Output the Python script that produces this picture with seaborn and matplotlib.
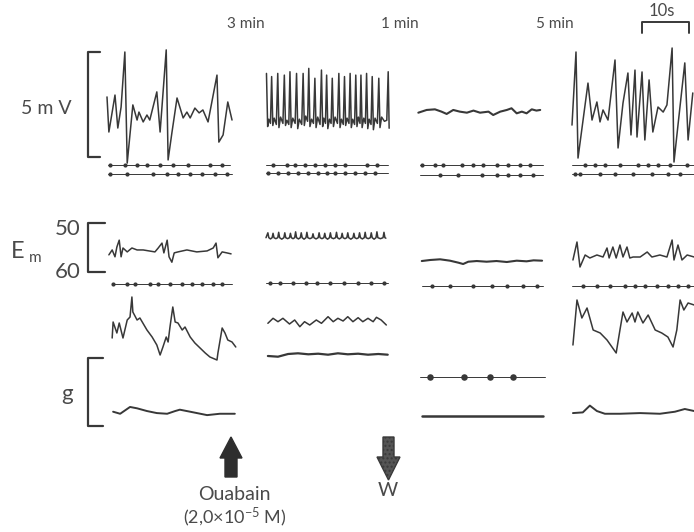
import matplotlib
matplotlib.use("Agg")
import matplotlib.pyplot as plt
import seaborn as sns
from matplotlib.patches import Polygon

# ---------------- data ----------------
# time in s from the start of each panel; top traces in mV, Em in -mV, 3rd row a.u., g row a.u.
TOP1_T = [0.0, 0.4, 1.7, 2.3, 3.0, 3.8, 4.3, 5.5, 6.4, 6.8, 7.7, 8.5, 9.1, 10.6, 11.3, 12.6, 13.0,
          13.8, 14.9, 16.2, 17.0, 17.7, 18.7, 19.6, 20.4, 21.5, 23.4, 23.8, 24.7, 25.7, 26.6]
TOP1_MV = [2.86, 1.19, 2.95, 1.38, 2.38, 5.0, -0.29, 2.48, 1.76, 2.14, 1.67, 2.0, 1.76, 3.1, 1.19, 5.1,
           -0.14, 1.14, 2.81, 1.86, 2.14, 1.86, 2.33, 2.1, 2.24, 1.67, 3.9, 0.71, 1.05, 2.62, 1.76]

TOP2_T = [0.1, 0.35, 0.6, 0.95, 1.2, 1.45, 1.75, 2.2, 2.5, 2.75, 3.1, 3.6, 3.9, 4.15, 4.45, 4.85,
          5.1, 5.35, 5.7, 6.2, 6.5, 6.75, 7.1, 7.6, 7.9, 8.15, 8.45, 8.85, 9.1, 9.35, 9.7, 10.1,
          10.4, 10.65, 11.0, 11.5, 11.8, 12.05, 12.3, 12.65, 12.9, 13.15, 13.5, 13.85, 14.1, 14.35,
          14.7, 15.2, 15.5, 15.75, 16.05, 16.45, 16.7, 16.95, 17.25, 17.65, 17.9, 18.15, 18.45, 18.85,
          19.1, 19.35, 19.65, 20.0, 20.2, 20.45, 20.8, 21.15, 21.4, 21.65, 21.95, 22.35, 22.6, 22.85,
          23.2, 23.7, 24.0, 24.25, 24.6, 25.2, 25.7, 26.0, 26.2]
TOP2_MV = [3.98, 1.45, 1.8, 1.6, 3.83, 1.5, 1.85, 1.55, 3.98, 1.4, 1.9, 1.6, 3.9, 1.5, 1.75, 1.55,
           4.06, 1.4, 1.85, 1.6, 3.98, 1.35, 1.8, 1.55, 3.98, 1.5, 1.95, 1.7, 4.22, 1.45, 1.8, 1.6,
           3.75, 1.4, 1.9, 1.55, 4.14, 1.45, 1.85, 1.6, 3.9, 1.35, 1.8, 1.6, 3.75, 1.45,
           1.9, 1.6, 3.98, 1.4, 1.8, 1.55, 3.83, 1.5, 1.85, 1.6, 3.98, 1.4, 1.8, 1.55,
           3.9, 1.45, 1.9, 1.6, 3.9, 1.4, 1.85, 1.6, 3.98, 1.35, 1.8, 1.55, 3.83, 1.3,
           1.85, 1.6, 3.75, 1.4, 1.9, 1.7, 1.75, 4.06, 1.37]

TOP3_T = [0.07, 1.84, 3.6, 5.0, 6.1, 7.5, 8.9, 10.4, 11.8, 13.2, 15.0, 16.0, 17.5, 18.9, 19.9,
          21.0, 22.1, 23.1, 24.2, 25.2, 26.0]
TOP3_MV = [2.11, 2.24, 2.27, 2.16, 2.05, 2.24, 2.16, 2.11, 2.21, 2.11, 2.16, 2.0, 2.16, 2.24, 2.32,
           2.08, 2.16, 2.08, 2.27, 2.21, 2.24]

TOP4_T = [0.0, 0.85, 1.28, 3.4, 4.26, 5.3, 5.96, 6.6, 7.66, 9.15, 9.8, 10.85, 11.9, 12.55, 13.4,
          13.83, 14.9, 15.5, 16.4, 17.2, 18.3, 19.4, 20.2, 21.3, 21.7, 22.55, 24.0, 24.7, 25.7]
TOP4_MV = [1.52, 5.0, -0.05, 3.52, 1.76, 2.62, 1.67, 2.24, 1.76, 4.62, 0.43, 2.57, 4.0, 1.05, 4.14,
           0.95, 4.05, 0.81, 3.67, 1.19, 2.38, 2.14, 2.48, 5.19, -0.24, 1.52, 4.48, 0.81, 3.05]

EM1_T = [0.4, 1.1, 1.7, 2.1, 2.6, 3.0, 3.4, 4.3, 5.3, 6.4, 7.7, 10.2, 10.9, 11.7, 12.1, 12.8, 13.2,
         13.8, 14.3, 15.1, 17.0, 19.1, 21.3, 22.6, 23.2, 23.6, 24.5, 25.5, 26.4]
EM1_V = [56.5, 55.5, 56.9, 54.9, 53.5, 56.9, 55.1, 55.9, 55.1, 55.5, 55.5, 55.9, 55.1, 54.1, 56.1,
         53.5, 56.9, 58.0, 56.1, 55.9, 55.5, 55.9, 55.7, 55.1, 54.1, 57.1, 55.9, 56.1, 56.3]

EM2_T = [0.0,
         0.4, 0.6, 0.95, 1.3, 1.5, 1.7, 2.1, 2.5, 2.7, 2.9, 3.35, 3.8, 4.0, 4.2, 4.6, 5.0,
         5.2, 5.4, 5.75, 6.1, 6.3, 6.5, 6.9, 7.3, 7.5, 7.7, 8.1, 8.5, 8.7, 8.9, 9.35, 9.8,
         10.0, 10.2, 10.65, 11.1, 11.3, 11.5, 11.9, 12.3, 12.5, 12.7, 13.1, 13.5, 13.7, 13.9, 14.35, 14.8,
         15.0, 15.2, 15.6, 16.0, 16.2, 16.4, 16.8, 17.2, 17.4, 17.6, 18.05, 18.5, 18.7, 18.9, 19.3, 19.7,
         19.9, 20.1, 20.5, 20.9, 21.1, 21.3, 21.75, 22.2, 22.4, 22.6, 23.0, 23.4, 23.6, 23.8, 24.35, 24.9,
         25.1, 25.3, 25.5]
EM2_V = [53.0,
         52.0, 53.0, 53.25, 53.0, 52.1, 53.0, 53.2, 53.0, 51.9, 53.0, 53.3, 53.0, 52.0, 53.0, 53.2, 53.0,
         52.1, 53.0, 53.2, 53.0, 51.8, 53.0, 53.25, 53.0, 52.0, 53.0, 53.3, 53.0, 51.9, 53.0, 53.2, 53.0,
         52.2, 53.0, 53.25, 53.0, 52.0, 53.0, 53.2, 53.0, 52.1, 53.0, 53.3, 53.0, 52.0, 53.0, 53.2, 53.0,
         51.9, 53.0, 53.25, 53.0, 52.1, 53.0, 53.2, 53.0, 52.0, 53.0, 53.3, 53.0, 52.1, 53.0, 53.2, 53.0,
         52.0, 53.0, 53.25, 53.0, 51.9, 53.0, 53.2, 53.0, 52.0, 53.0, 53.3, 53.0, 51.8, 53.0, 53.2, 53.0,
         51.9, 53.0, 53.1]

EM3_T = [0.8, 2.6, 4.7, 6.8, 8.6, 9.6, 10.7, 12.5, 14.6, 16.7, 18.9, 21.0, 23.1, 24.6, 26.4]
EM3_V = [57.76, 57.55, 57.41, 57.69, 58.1, 58.37, 57.9, 57.76, 57.9, 57.76, 57.96, 57.69, 57.82,
         57.62, 57.69]

EM4_T = [0.2, 1.06, 1.7, 2.8, 3.8, 5.3, 6.6, 7.45, 7.9, 8.7, 9.4, 10.2, 10.85, 11.7, 12.3, 13.0,
         14.5, 16.0, 17.0, 18.7, 20.2, 21.3, 21.7, 22.55, 23.4, 24.5, 26.0]
EM4_V = [57.55, 53.88, 58.98, 56.53, 57.14, 56.53, 56.94, 55.1, 57.14, 54.9, 57.14, 54.49, 56.94,
         54.9, 57.14, 56.94, 56.94, 55.92, 56.94, 56.53, 56.94, 53.47, 57.55, 54.49, 57.55, 56.53, 56.94]

MEC1_T = [1.1, 1.3, 2.1, 2.6, 3.4, 4.3, 4.9, 5.3, 5.5, 6.4, 7.0, 8.5, 9.6, 10.6, 11.3, 11.9, 12.6,
          13.0, 13.4, 14.0, 14.5, 15.1, 16.0, 16.6, 17.7, 18.7, 19.8, 20.9, 21.9, 23.4, 23.6, 24.5,
          25.1, 25.7, 26.6, 27.4]
MEC1_V = [3.2, 4.8, 3.7, 4.7, 3.2, 5.0, 5.3, 7.3, 5.8, 5.0, 5.2, 4.0, 3.3, 2.5, 1.5, 2.3, 3.3,
          2.8, 4.3, 6.3, 4.8, 4.7, 4.0, 4.3, 3.3, 2.7, 2.2, 1.7, 1.3, 1.0, 1.7, 4.2,
          3.7, 3.0, 2.8, 2.3]

MEC2_T = [0.4, 1.5, 2.55, 3.6, 5.0, 6.1, 7.2, 8.2, 9.3, 10.7, 11.8, 13.2, 14.3, 15.3, 16.4, 17.4,
          18.5, 19.6, 20.6, 21.7, 22.8, 23.5, 24.5, 25.6]
MEC2_V = [4.67, 5.17, 4.83, 5.17, 4.6, 5.0, 4.33, 4.83, 4.5, 5.0, 4.67, 5.33, 4.83, 5.17, 4.9, 5.33,
          4.83, 5.23, 4.83, 5.17, 4.83, 5.27, 5.0, 4.5]
BASE2_T = [0.4, 2.55, 4.7, 6.8, 9.0, 11.1, 13.2, 15.3, 17.4, 19.6, 21.7, 23.9, 25.9]
BASE2_V = [1.4, 1.33, 1.6, 1.67, 1.57, 1.63, 1.53, 1.67, 1.57, 1.63, 1.53, 1.6, 1.53]

MEC4_T = [0.2, 1.06, 2.1, 3.2, 4.5, 6.0, 7.45, 8.5, 9.4, 10.2, 10.85, 11.7, 12.8, 13.4, 14.0, 15.1,
          16.2, 17.7, 19.1, 20.4, 21.5, 22.3, 23.0, 23.8, 24.7, 26.0]
MEC4_V = [2.5, 7.0, 5.2, 6.2, 4.0, 3.7, 3.0, 2.3, 1.7, 4.0, 5.8, 4.8, 5.7, 4.8, 5.8, 4.7,
          5.5, 4.0, 3.7, 3.3, 2.3, 4.0, 7.0, 6.0, 6.7, 6.5]

G1_T = [1.3, 2.8, 4.9, 6.4, 8.5, 10.6, 12.8, 14.5, 15.5, 17.7, 21.3, 24.0, 27.2]
G1_V = [0.21, 0.18, 0.28, 0.26, 0.22, 0.19, 0.18, 0.22, 0.24, 0.21, 0.16, 0.18, 0.18]
G3_T = [0.85, 13.0, 26.6]
G3_V = [0.14, 0.14, 0.14]
G4_T = [0.2, 2.3, 3.8, 5.3, 7.0, 10.2, 14.5, 18.7, 21.9, 24.0, 26.0]
G4_V = [0.19, 0.2, 0.3, 0.22, 0.18, 0.18, 0.19, 0.18, 0.21, 0.25, 0.22]

# time-marker rows: dot times (s)
MARK_TOP_A = [[0.6, 3.8, 6.4, 8.5, 11.3, 14.0, 17.2, 21.9, 24.5],
              [1.5, 4.5, 6.2, 8.3, 10.4, 12.6, 14.7, 16.8, 21.5, 23.6],
              [0.85, 3.6, 5.3, 9.4, 11.7, 13.8, 16.8, 19.1, 21.7, 23.8],
              [2.8, 4.9, 7.0, 10.2, 14.0, 16.2, 18.3, 20.9, 24.5]]
MARK_TOP_B = [[0.6, 4.3, 9.8, 12.8, 15.1, 17.7, 20.2, 23.0, 25.5],
              [0.4, 2.6, 4.7, 6.8, 8.9, 11.1, 13.0, 14.7, 16.8, 18.9, 21.1, 23.2],
              [4.7, 8.5, 13.6, 16.8, 19.1, 21.7, 24.5],
              [0.6, 1.7, 6.0, 9.1, 13.0, 17.0, 20.4, 23.0]]
MARK_EM = [[1.3, 4.3, 6.0, 9.1, 10.9, 13.4, 16.0, 18.1, 20.2, 22.6, 24.5],
           [0.85, 3.0, 5.7, 8.5, 10.9, 13.6, 16.6, 19.6, 22.3, 25.1],
           [3.0, 6.8, 11.7, 15.7, 18.9, 22.3, 25.3],
           [2.3, 5.3, 8.1, 11.3, 13.4, 15.5, 18.1, 20.4, 22.55, 24.7]]
MARK_G3 = [2.55, 9.8, 15.3, 20.2]

SCALE_MV = 5
SCALE_EM = (50, 60)
SCALE_S = 10
TIME_LABELS = ["3 min", "1 min", "5 min"]

# ---------------- layout / style ----------------
sns.set_theme(style="white")
plt.rcParams["font.family"] = ["Lato", "DejaVu Sans"]
plt.rcParams["mathtext.default"] = "regular"

W, H = 694, 532
INK = "#383838"
fig = plt.figure(figsize=(W / 100, H / 100), dpi=100, facecolor="white")

PX_PER_S = 4.7
SPAN_S = 26.6
COL_X0 = [107, 266, 418, 572]


def add_ax(x0, y_top, y_bot, ylim):
    ax = fig.add_axes([x0 / W, 1 - y_bot / H, SPAN_S * PX_PER_S / W, (y_bot - y_top) / H])
    ax.set_xlim(0, SPAN_S)
    ax.set_ylim(*ylim)
    ax.axis("off")
    ax.patch.set_alpha(0)
    return ax


def trace(ax, t, v, lw=1.1):
    sns.lineplot(x=t, y=v, ax=ax, color=INK, linewidth=lw, sort=False, estimator=None, legend=False)
    for ln in ax.lines:
        ln.set_clip_on(False)


def marker_row(x0, y, times, extent, s=9):
    ax = add_ax(x0, y - 5, y + 5, (-1, 1))
    sns.lineplot(x=list(extent), y=[0, 0], ax=ax, color=INK, linewidth=0.7, estimator=None, legend=False)
    sns.scatterplot(x=times, y=[0] * len(times), ax=ax, s=s, color=INK, linewidth=0, legend=False)
    for ln in ax.lines:
        ln.set_clip_on(False)
    for c in ax.collections:
        c.set_clip_on(False)
    return ax


# top traces (5 mV row)
TOPS = [(TOP1_T, TOP1_MV), (TOP2_T, TOP2_MV), (TOP3_T, TOP3_MV), (TOP4_T, TOP4_MV)]
top_axes = []
for x0, (t, v) in zip(COL_X0, TOPS):
    ax = add_ax(x0, 52, 157, (0, SCALE_MV))
    trace(ax, t, v, lw=1.1 if v is not TOP3_MV else 1.5)
    top_axes.append(ax)

TOP_EXT_A = [(0.2, 26.2), (0.0, 26.0), (0.4, 26.6), (0.0, 26.6)]
TOP_EXT_B = [(0.2, 26.6), (0.0, 26.0), (0.4, 26.6), (0.0, 26.6)]
TOP_Y_B = [174, 173, 175, 174]
for i, x0 in enumerate(COL_X0):
    marker_row(x0, 165, MARK_TOP_A[i], TOP_EXT_A[i])
    marker_row(x0, TOP_Y_B[i], MARK_TOP_B[i], TOP_EXT_B[i])

# Em row
EMS = [(EM1_T, EM1_V), (EM2_T, EM2_V), (EM3_T, EM3_V), (EM4_T, EM4_V)]
em_axes = []
for x0, (t, v) in zip(COL_X0, EMS):
    ax = add_ax(x0, 223, 272, (SCALE_EM[1], SCALE_EM[0]))
    trace(ax, t, v, lw=1.1 if v is not EM3_V else 1.5)
    em_axes.append(ax)

EM_EXT = [(1.1, 26.6), (0.0, 26.0), (0.8, 26.6), (0.0, 26.6)]
EM_MARK_Y = [284, 283, 286, 286]
for i, x0 in enumerate(COL_X0):
    marker_row(x0, EM_MARK_Y[i], MARK_EM[i], EM_EXT[i])

# third row
mec_axes = []
for x0, tv in zip(COL_X0, [(MEC1_T, MEC1_V), (MEC2_T, MEC2_V), None, (MEC4_T, MEC4_V)]):
    ax = add_ax(x0, 290, 370, (0, 8))
    if tv is not None:
        trace(ax, tv[0], tv[1])
    mec_axes.append(ax)
trace(mec_axes[1], BASE2_T, BASE2_V, lw=1.6)

# g row
g_axes = []
for x0, tv in zip(COL_X0, [(G1_T, G1_V), None, (G3_T, G3_V), (G4_T, G4_V)]):
    ax = add_ax(x0, 358, 426, (0, 1))
    if tv is not None:
        trace(ax, tv[0], tv[1], lw=1.4 if tv[0] is not G3_T else 1.8)
    g_axes.append(ax)
marker_row(COL_X0[2], 377, MARK_G3, (0.4, 27.0), s=22)


# scale brackets (left of column 1), positions converted from pixel layout to seconds
def px_to_s(px, col=0):
    return (px - COL_X0[col]) / PX_PER_S


bx, btick = px_to_s(88), px_to_s(100)
top_axes[0].plot([btick, bx, bx, btick], [SCALE_MV, SCALE_MV, 0, 0], color=INK, lw=1.6, clip_on=False)
etick = px_to_s(105)
em_axes[0].plot([etick, bx, bx, etick], [SCALE_EM[0], SCALE_EM[0], SCALE_EM[1], SCALE_EM[1]],
                color=INK, lw=1.6, clip_on=False)
gtick = px_to_s(103)
g_axes[0].plot([gtick, bx, bx, gtick], [1, 1, 0, 0], color=INK, lw=1.6, clip_on=False)

# 10 s bar (above column 4)
s0 = px_to_s(642, 3)
top_axes[3].plot([s0, s0, s0 + SCALE_S, s0 + SCALE_S], [5.9, 6.43, 6.43, 5.9], color=INK, lw=1.4,
                 clip_on=False)

# ---------------- annotation overlay (pixel coordinates) ----------------
ov = fig.add_axes([0, 0, 1, 1])
ov.set_xlim(0, W)
ov.set_ylim(H, 0)
ov.axis("off")
ov.patch.set_alpha(0)

TXT = dict(color="#4a4a4a", ha="center", va="center", fontweight="normal")
ov.text(246, 24, TIME_LABELS[0], fontsize=11, **TXT)
ov.text(400, 24, TIME_LABELS[1], fontsize=11, **TXT)
ov.text(555, 24, TIME_LABELS[2], fontsize=11, **TXT)
ov.text(662, 11, f"{SCALE_S}s", fontsize=12, **TXT)
ov.text(46, 108, "5 m V", fontsize=14, **TXT)
ov.text(68, 229, str(SCALE_EM[0]), fontsize=16, **TXT)
ov.text(68, 272, str(SCALE_EM[1]), fontsize=16, **TXT)
ov.text(18, 252, "E", fontsize=17, **TXT)
ov.text(35, 258, "m", fontsize=11, **TXT)
ov.text(67, 394, "g", fontsize=16, **TXT)
ov.text(234, 494, "Ouabain", fontsize=14, **TXT)
ov.text(235, 517, r"(2,0×10$^{-5}$ M)", fontsize=13, **TXT)
ov.text(388, 491, "W", fontsize=14, **TXT)

up = Polygon([(231, 437), (242, 458), (237, 458), (237, 477), (225, 477), (225, 458), (220, 458)],
             closed=True, facecolor="#2e2e2e", edgecolor="#2e2e2e")
down = Polygon([(383, 437), (394, 437), (394, 457), (400, 457), (388.5, 480), (377, 457), (383, 457)],
               closed=True, facecolor="#555555", edgecolor="#3a3a3a", hatch="....")
ov.add_patch(up)
ov.add_patch(down)

fig.savefig("out.png", dpi=100, facecolor="white")
